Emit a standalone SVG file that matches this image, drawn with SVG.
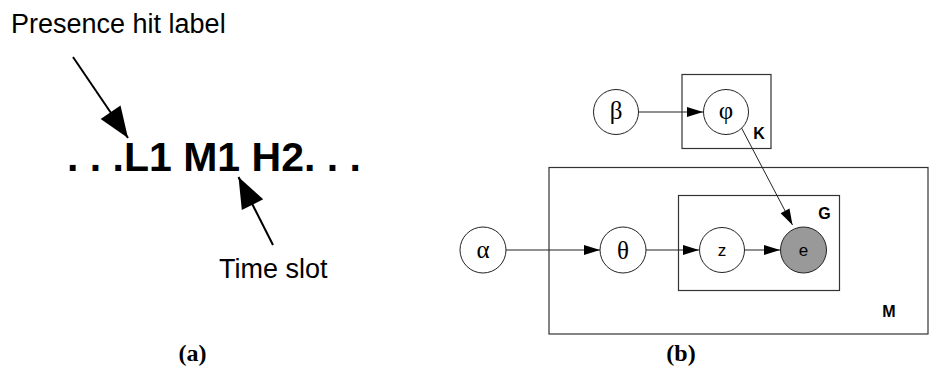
<svg xmlns="http://www.w3.org/2000/svg" width="930" height="366" viewBox="0 0 930 366">
  <defs>
    <marker id="head-big" viewBox="0 0 10 10" refX="10" refY="5" markerWidth="10" markerHeight="10" markerUnits="userSpaceOnUse" orient="auto" overflow="visible">
      <path d="M-21,-7 L10,5 L-21,17 Z" fill="#000"/>
    </marker>
    <marker id="head" viewBox="0 0 10 10" refX="10" refY="5" markerWidth="10" markerHeight="10" markerUnits="userSpaceOnUse" orient="auto" overflow="visible">
      <path d="M-6,0 L10,5 L-6,10 Z" fill="#000"/>
    </marker>
  </defs>
  <style>
    .sans { font-family: "Liberation Sans", Arial, sans-serif; fill: #000; }
    .serif { font-family: "Liberation Serif", "Times New Roman", serif; fill: #000; }
    .plate { fill: none; stroke: #333; stroke-width: 1.2; }
    .node { fill: #fff; stroke: #222; stroke-width: 1; }
    .obs { fill: #999; stroke: #222; stroke-width: 1; }
    .edge { fill: none; stroke: #222; stroke-width: 1; marker-end: url(#head); }
    .pointer { fill: none; stroke: #000; stroke-width: 2; marker-end: url(#head-big); }
    .greek { font-size: 25px; text-anchor: middle; }
    .var { font-size: 17px; text-anchor: middle; }
    .plabel { font-size: 16px; font-weight: bold; text-anchor: middle; }
    .caption { font-size: 24px; font-weight: bold; text-anchor: middle; }
  </style>

  <rect width="930" height="366" fill="#fff"/>

  <!-- (a) label sequence -->
  <g id="panel-a">
    <text class="sans" x="11" y="33" font-size="27">Presence hit label</text>
    <text class="sans" x="67" y="171" font-size="41" font-weight="bold">. . .L1 M1 H2. . .</text>
    <text class="sans" x="219" y="278" font-size="27">Time slot</text>
  </g>

  <g id="pointers">
    <line class="pointer" x1="73" y1="57" x2="128" y2="138"/>
    <line class="pointer" x1="273" y1="245" x2="238.5" y2="177"/>
  </g>

  <!-- (b) plates -->
  <g id="plate-K">
    <rect class="plate" x="682" y="74.5" width="89" height="74"/>
    <text class="sans plabel" x="759" y="139">K</text>
  </g>
  <g id="plate-M">
    <rect class="plate" x="549" y="167.5" width="379" height="166.5"/>
    <text class="sans plabel" x="889" y="317">M</text>
  </g>
  <g id="plate-G">
    <rect class="plate" x="678.5" y="195.5" width="161" height="95"/>
    <text class="sans plabel" x="824.5" y="219">G</text>
  </g>

  <!-- connectors -->
  <g id="edges">
    <line class="edge" x1="638.5" y1="112" x2="703" y2="112"/>
    <line class="edge" x1="741" y1="127" x2="792.5" y2="225"/>
    <line class="edge" x1="506" y1="250" x2="600" y2="250"/>
    <line class="edge" x1="646" y1="250" x2="699" y2="250"/>
    <line class="edge" x1="744.5" y1="250" x2="780" y2="250"/>
  </g>

  <!-- nodes -->
  <g id="node-beta">
    <circle class="node" cx="616" cy="112" r="22.5"/>
    <text class="serif greek" x="616" y="118.5">β</text>
  </g>
  <g id="node-phi">
    <circle class="node" cx="726" cy="112" r="22.5"/>
    <text class="serif greek" x="726" y="119">φ</text>
  </g>
  <g id="node-alpha">
    <circle class="node" cx="483" cy="250" r="23"/>
    <text class="serif greek" x="483" y="258">α</text>
  </g>
  <g id="node-theta">
    <circle class="node" cx="623" cy="250" r="23"/>
    <text class="serif greek" x="623" y="258.5">θ</text>
  </g>
  <g id="node-z">
    <circle class="node" cx="722" cy="250" r="22.5"/>
    <text class="sans var" x="722" y="256">z</text>
  </g>
  <g id="node-e">
    <circle class="obs" cx="803.5" cy="250" r="23"/>
    <text class="sans var" x="803.5" y="256" fill="#111">e</text>
  </g>

  <!-- captions -->
  <text class="serif caption" x="192.5" y="361">(a)</text>
  <text class="serif caption" x="681" y="361">(b)</text>
</svg>
